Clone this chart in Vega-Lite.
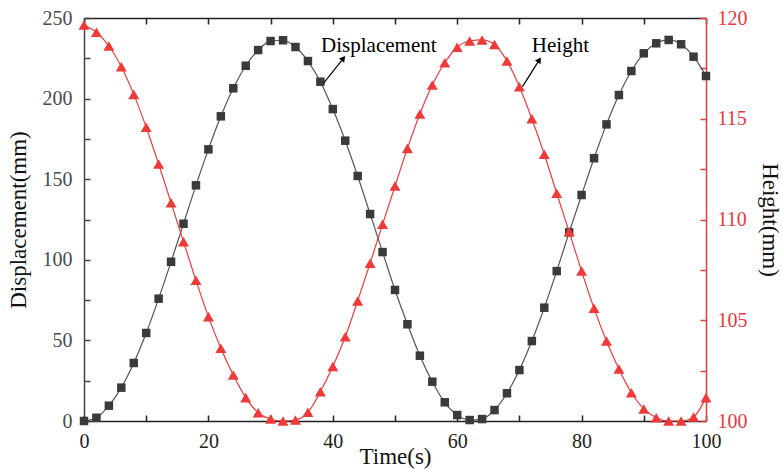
{
  "$schema": "https://vega.github.io/schema/vega-lite/v6.json",
  "width": 622,
  "height": 403,
  "autosize": {"type": "none"},
  "padding": {"left": 84, "top": 18, "right": 77, "bottom": 48},
  "background": "white",
  "config": {
    "view": {"stroke": null},
    "axis": {"grid": false, "labelFont": "Liberation Serif", "titleFont": "Liberation Serif", "titleFontWeight": "normal"}
  },
  "datasets": {
    "series": [
      {"t": 0, "displacement": 0, "height": 119.65},
      {"t": 2, "displacement": 2, "height": 119.29},
      {"t": 4, "displacement": 9.5, "height": 118.61},
      {"t": 6, "displacement": 20.7, "height": 117.58},
      {"t": 8, "displacement": 36, "height": 116.21},
      {"t": 10, "displacement": 54.6, "height": 114.58},
      {"t": 12, "displacement": 75.9, "height": 112.75},
      {"t": 14, "displacement": 98.8, "height": 110.83},
      {"t": 16, "displacement": 122.4, "height": 108.9},
      {"t": 18, "displacement": 146.2, "height": 106.98},
      {"t": 20, "displacement": 168.5, "height": 105.18},
      {"t": 22, "displacement": 189, "height": 103.61},
      {"t": 24, "displacement": 206.4, "height": 102.28},
      {"t": 26, "displacement": 220.4, "height": 101.16},
      {"t": 28, "displacement": 230.1, "height": 100.41},
      {"t": 30, "displacement": 235.7, "height": 100.1},
      {"t": 32, "displacement": 236.2, "height": 100.0},
      {"t": 34, "displacement": 232, "height": 100.05},
      {"t": 36, "displacement": 223.3, "height": 100.43},
      {"t": 38, "displacement": 210.5, "height": 101.45},
      {"t": 40, "displacement": 193.5, "height": 102.7},
      {"t": 42, "displacement": 173.9, "height": 104.18},
      {"t": 44, "displacement": 152, "height": 105.96},
      {"t": 46, "displacement": 128.4, "height": 107.83},
      {"t": 48, "displacement": 104.8, "height": 109.76},
      {"t": 50, "displacement": 81.3, "height": 111.66},
      {"t": 52, "displacement": 60, "height": 113.53},
      {"t": 54, "displacement": 40.5, "height": 115.24},
      {"t": 56, "displacement": 24.4, "height": 116.67},
      {"t": 58, "displacement": 11.6, "height": 117.78},
      {"t": 60, "displacement": 3.7, "height": 118.55},
      {"t": 62, "displacement": 0.6, "height": 118.86},
      {"t": 64, "displacement": 1.2, "height": 118.91},
      {"t": 66, "displacement": 6.8, "height": 118.69},
      {"t": 68, "displacement": 17.2, "height": 117.87},
      {"t": 70, "displacement": 31.6, "height": 116.59},
      {"t": 72, "displacement": 49.6, "height": 115.0},
      {"t": 74, "displacement": 70.3, "height": 113.24},
      {"t": 76, "displacement": 93, "height": 111.3},
      {"t": 78, "displacement": 117, "height": 109.39},
      {"t": 80, "displacement": 140.2, "height": 107.44},
      {"t": 82, "displacement": 163, "height": 105.59},
      {"t": 84, "displacement": 184, "height": 103.97},
      {"t": 86, "displacement": 202.2, "height": 102.58},
      {"t": 88, "displacement": 217.1, "height": 101.4},
      {"t": 90, "displacement": 228.1, "height": 100.6},
      {"t": 92, "displacement": 234.3, "height": 100.16},
      {"t": 94, "displacement": 236.4, "height": 100.0},
      {"t": 96, "displacement": 233.7, "height": 100.0},
      {"t": 98, "displacement": 226, "height": 100.2},
      {"t": 100, "displacement": 214, "height": 101.16}
    ],
    "notes": [
      {"label": "Displacement", "tx": 47.4, "ty": 228.9, "x1": 38.5, "y1": 209.5, "x2": 41.7, "y2": 225},
      {"label": "Height", "tx": 76.6, "ty": 228.9, "x1": 70.5, "y1": 207.4, "x2": 73.2, "y2": 224}
    ]
  },
  "layer": [
    {
      "layer": [
        {
          "data": {"name": "series"},
          "mark": {"type": "line", "color": "#555555", "strokeWidth": 1.2, "interpolate": "monotone"},
          "encoding": {
            "x": {
              "field": "t", "type": "quantitative", "title": "Time(s)",
              "scale": {"domain": [0, 100], "nice": false, "zero": false},
              "axis": {
                "orient": "bottom",
                "values": [0, 10, 20, 30, 40, 50, 60, 70, 80, 90, 100],
                "labelExpr": "datum.value % 20 === 0 ? datum.label : ''",
                "tickSize": -6, "tickWidth": 1.5, "tickColor": "#222222",
                "domainColor": "#222222", "domainWidth": 1.5,
                "labelFont": "Liberation Serif",
                "labelFontSize": 20, "labelColor": "#222222", "labelPadding": 16, "labelFlush": false,
                "titleFont": "Liberation Serif",
                "titleFontSize": 23, "titleColor": "#111111",
                "titleX": 311, "titleY": 42, "titleBaseline": "alphabetic", "titleAlign": "center"
              }
            },
            "y": {
              "field": "displacement", "type": "quantitative", "title": "Displacement(mm)",
              "scale": {"domain": [0, 250], "nice": false},
              "axis": {
                "orient": "left",
                "values": [0, 25, 50, 75, 100, 125, 150, 175, 200, 225, 250],
                "labelExpr": "datum.value % 50 === 0 ? datum.label : ''",
                "tickSize": -6, "tickWidth": 1.5, "tickColor": "#444444",
                "domainColor": "#444444", "domainWidth": 1.5,
                "labelFont": "Liberation Serif",
                "labelFontSize": 20, "labelColor": "#4a4a4a", "labelPadding": 18, "labelFlush": false,
                "titleFont": "Liberation Serif",
                "titleFontSize": 23, "titleColor": "#111111",
                "titleX": -59, "titleY": 201.5, "titleBaseline": "alphabetic", "titleAngle": -90, "titleAlign": "center"
              }
            }
          }
        },
        {
          "data": {"name": "series"},
          "mark": {"type": "point", "shape": "square", "filled": true, "size": 72, "color": "#3a3a3a", "opacity": 1},
          "encoding": {
            "x": {"field": "t", "type": "quantitative", "title": "Time(s)"},
            "y": {"field": "displacement", "type": "quantitative", "title": "Displacement(mm)"}
          }
        },
        {
          "data": {"name": "notes"},
          "mark": {"type": "rule", "color": "#000000", "strokeWidth": 1.2},
          "encoding": {
            "x": {"field": "x1", "type": "quantitative", "title": "Time(s)"},
            "x2": {"field": "x2"},
            "y": {"field": "y1", "type": "quantitative", "title": "Displacement(mm)"},
            "y2": {"field": "y2"}
          }
        },
        {
          "data": {"name": "notes"},
          "mark": {"type": "point", "shape": "triangle-up", "filled": true, "size": 45, "color": "#000000", "opacity": 1},
          "encoding": {
            "x": {"field": "x2", "type": "quantitative", "title": "Time(s)"},
            "y": {"field": "y2", "type": "quantitative", "title": "Displacement(mm)"},
            "angle": {"field": "label", "type": "nominal", "scale": {"domain": ["Displacement", "Height"], "range": [39, 32]}, "legend": null}
          }
        },
        {
          "data": {"name": "notes"},
          "mark": {"type": "text", "font": "Liberation Serif", "fontSize": 21, "baseline": "alphabetic", "align": "center", "color": "#000000"},
          "encoding": {
            "x": {"field": "tx", "type": "quantitative", "title": "Time(s)"},
            "y": {"field": "ty", "type": "quantitative", "title": "Displacement(mm)"},
            "text": {"field": "label"}
          }
        }
      ]
    },
    {
      "data": {"name": "series"},
      "encoding": {
        "x": {
          "field": "t", "type": "quantitative", "title": null,
          "scale": {"domain": [0, 100], "nice": false, "zero": false},
          "axis": {
            "orient": "top",
            "values": [0, 10, 20, 30, 40, 50, 60, 70, 80, 90, 100],
            "labels": false, "title": null,
            "tickSize": -6, "tickWidth": 1.5, "tickColor": "#222222",
            "domainColor": "#222222", "domainWidth": 1.5
          }
        },
        "y": {
          "field": "height", "type": "quantitative", "title": "Height(mm)",
          "scale": {"domain": [100, 120], "nice": false, "zero": false},
          "axis": {
            "orient": "right",
            "values": [100, 102.5, 105, 107.5, 110, 112.5, 115, 117.5, 120],
            "labelExpr": "datum.value % 5 === 0 ? datum.label : ''",
            "tickSize": -6, "tickWidth": 1.5, "tickColor": "#ee3b3b",
            "domainColor": "#ee3b3b", "domainWidth": 1.5,
            "labelFont": "Liberation Serif",
            "labelFontSize": 20, "labelColor": "#e8383d", "labelPadding": 17, "labelFlush": false,
            "titleFont": "Liberation Serif",
            "titleFontSize": 23, "titleColor": "#111111",
            "titleX": 56, "titleY": 201.5, "titleBaseline": "alphabetic", "titleAngle": 90, "titleAlign": "center"
          }
        }
      },
      "layer": [
        {"mark": {"type": "line", "color": "#ee3b3b", "strokeWidth": 1.2, "interpolate": "monotone"}},
        {"mark": {"type": "point", "shape": "triangle-up", "filled": true, "size": 121, "color": "#ef3a3a", "opacity": 1}}
      ]
    }
  ],
  "resolve": {"scale": {"y": "independent"}, "axis": {"x": "independent", "y": "independent"}}
}
